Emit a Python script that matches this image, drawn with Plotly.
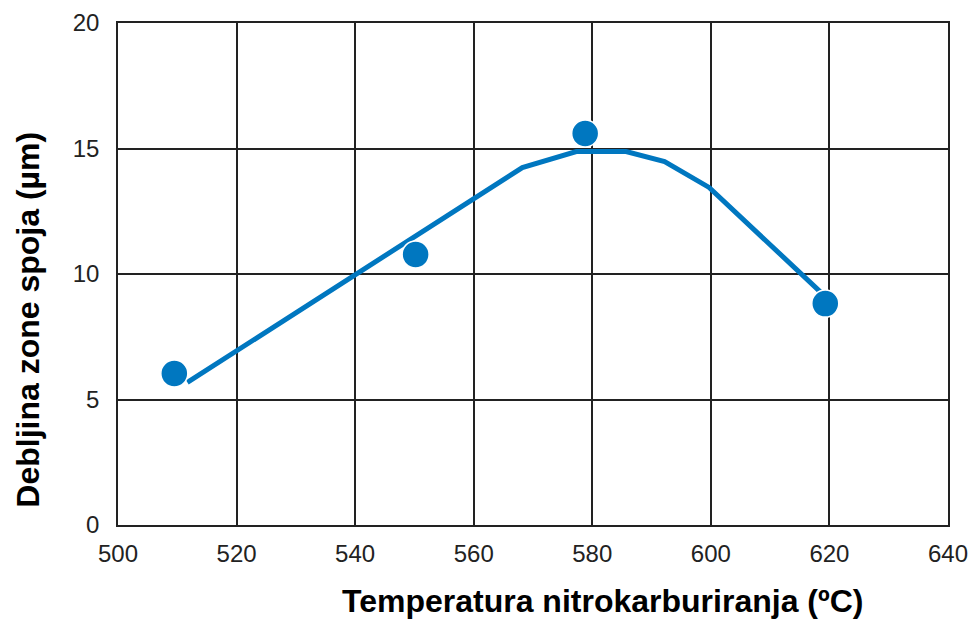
import plotly.graph_objects as go

# Measured data points
temp_pts = [509.5, 550.2, 578.8, 619.3]
depth_pts = [6.04, 10.78, 15.6, 8.82]

# Fitted curve
temp_line = [511.7, 540.0, 560.0, 568.2, 577.3, 585.7, 592.2, 599.7, 618.6]
depth_line = [5.68, 9.95, 12.97, 14.24, 14.88, 14.88, 14.48, 13.45, 9.26]

x_ticks = [500, 520, 540, 560, 580, 600, 620, 640]
y_ticks = [0, 5, 10, 15, 20]

BLUE = "#0077C0"
FONT = "Liberation Sans, Arial, sans-serif"

fig = go.Figure()
fig.add_trace(go.Scatter(x=temp_line, y=depth_line, mode="lines",
                         line=dict(color=BLUE, width=5), showlegend=False))
fig.add_trace(go.Scatter(x=temp_pts, y=depth_pts, mode="markers",
                         marker=dict(color=BLUE, size=27, line=dict(color="white", width=1.5)),
                         showlegend=False))

axis_common = dict(showgrid=True, gridcolor="#222", gridwidth=1.5, showline=True,
                   linecolor="#222", linewidth=1.5, mirror=True, zeroline=False,
                   ticks="", ticklabeloverflow="allow", automargin=False,
                   tickfont=dict(family=FONT, size=24, color="#222"))

fig.update_xaxes(range=[500, 640], tickvals=x_ticks, ticklabelstandoff=6, **axis_common)
fig.update_yaxes(range=[0, 20], tickvals=y_ticks, ticklabelstandoff=12, **axis_common)

fig.add_annotation(text="Temperatura nitrokarburiranja (ºC)", xref="paper", yref="paper",
                   x=0.584, y=0, yshift=-76, xanchor="center", yanchor="middle", showarrow=False,
                   font=dict(family=FONT, size=32, color="black", weight="bold"))
fig.add_annotation(text="Debljina zone spoja (µm)", xref="paper", yref="paper",
                   x=0, xshift=-90, y=0.409, xanchor="center", yanchor="middle", textangle=-90,
                   showarrow=False, font=dict(family=FONT, size=32, color="black", weight="bold"))

fig.update_layout(width=968, height=619, plot_bgcolor="white", paper_bgcolor="white",
                  margin=dict(l=118, r=20, t=23, b=94, autoexpand=False))
fig.write_html("out.html", config={"displayModeBar": False},
               post_script="document.body.style.margin='0px';document.body.style.overflow='hidden';")
